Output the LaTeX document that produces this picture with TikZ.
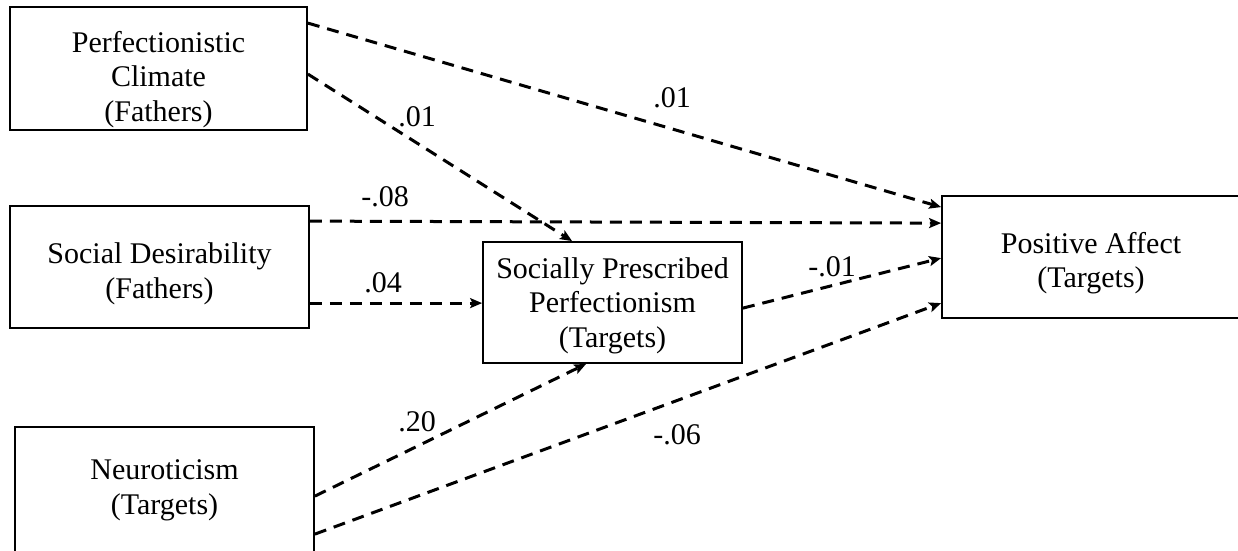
\documentclass[tikz,border=0pt]{standalone}
\usepackage{fontspec}
\setmainfont{Liberation Serif}
\usetikzlibrary{arrows.meta}
\begin{document}
\begin{tikzpicture}[x=1pt,y=-1pt,
  varbox/.style={draw=black,line width=1.8pt,inner sep=0pt},
  boxtext/.style={align=center,inner sep=0pt,font=\fontsize{30}{34.5}\selectfont},
  path/.style={line width=3pt,dash pattern=on 12pt off 8pt,
    -{Stealth[length=12pt,width=10pt,inset=2.5pt]}},
  coef/.style={inner sep=0pt,font=\fontsize{30}{34}\selectfont}]
\clip (0,0) rectangle (1238,550);
\fill[white] (0,0) rectangle (1238,550);

% variable boxes
\node[varbox,minimum width=297pt,minimum height=123pt] (pc) at (158.5,68.5) {};
\node[varbox,minimum width=299pt,minimum height=122pt] (sd) at (159.5,267) {};
\node[varbox,minimum width=299pt,minimum height=125pt] (ne) at (164.5,489.5) {};
\node[varbox,minimum width=259pt,minimum height=121pt] (spp) at (612.5,302.5) {};
\node[varbox,minimum width=298pt,minimum height=122pt] (pa) at (1091,257) {};

% variable names
\node[boxtext] (pctext) at ([yshift=-11pt]pc.center) {Perfectionistic\\Climate\\(Fathers)};
\node[boxtext] (sdtext) at ([yshift=-7pt]sd.center) {Social Desirability\\(Fathers)};
\node[boxtext] (netext) at ([yshift=-1pt]ne.center) {Neuroticism\\(Targets)};
\node[boxtext] (spptext) at ([yshift=-3pt]spp.center) {Socially Prescribed\\Perfectionism\\(Targets)};
\node[boxtext] (patext) at ([yshift=-6pt]pa.center) {Positive Affect\\(Targets)};

% paths
\draw[path] ([yshift=-17pt]pc.north east) -- ([yshift=-12pt]pa.north west);
\draw[path] ([yshift=-68pt]pc.north east) -- ([xshift=90pt]spp.north west);
\draw[path] ([yshift=-16pt]sd.north east) -- ([yshift=-28pt]pa.north west);
\draw[path] ([yshift=-98pt]sd.north east) -- ([yshift=-62pt]spp.north west);
\draw[path] ([yshift=-67pt]spp.north east) -- ([yshift=-63pt]pa.north west);
\draw[path] ([yshift=-70pt]ne.north east) -- ([xshift=104pt]spp.south west);
\draw[path] ([yshift=-108pt]ne.north east) -- ([yshift=-108pt]pa.north west);

% coefficients
\node[coef] (c1) at (672,98) {.01};
\node[coef] (c2) at (417,117) {.01};
\node[coef] (c3) at (385,197) {-.08};
\node[coef] (c4) at (383,283) {.04};
\node[coef] (c5) at (832,267) {-.01};
\node[coef] (c6) at (417,422) {.20};
\node[coef] (c7) at (677,435) {-.06};
\end{tikzpicture}
\end{document}
